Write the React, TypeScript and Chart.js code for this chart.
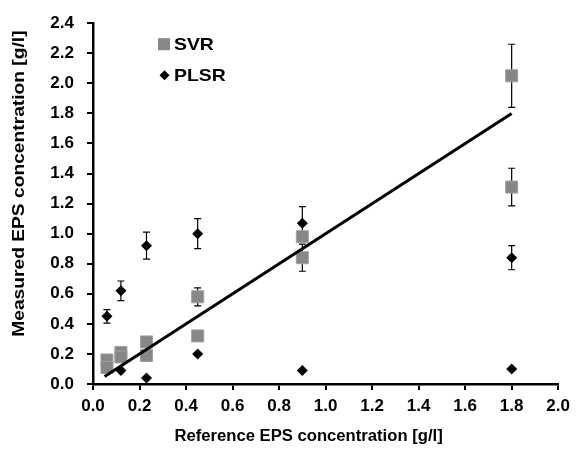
import React, { useEffect, useRef } from "react";
import { Chart, registerables } from "chart.js";

Chart.register(...registerables);

// Reference EPS concentration [g/l]
const svrX = [0.06, 0.06, 0.12, 0.12, 0.23, 0.23, 0.45, 0.45, 0.9, 0.9, 1.8, 1.8];
const svrY = [0.16, 0.11, 0.21, 0.18, 0.28, 0.19, 0.58, 0.32, 0.98, 0.84, 2.05, 1.31];
const svrErr = [0, 0, 0, 0, 0, 0, 0.06, 0, 0.03, 0.09, 0.21, 0.125];

const plsrX = [0.06, 0.12, 0.12, 0.23, 0.23, 0.45, 0.45, 0.9, 0.9, 1.8, 1.8];
const plsrY = [0.45, 0.62, 0.09, 0.92, 0.04, 1.0, 0.2, 1.07, 0.09, 0.84, 0.1];
const plsrErr = [0.045, 0.065, 0, 0.09, 0, 0.1, 0, 0.11, 0, 0.08, 0];

const fitX = [0.05, 1.8];
const fitY = [0.05, 1.8];

const legendLabels = ["SVR", "PLSR"];
const xTitle = "Reference EPS concentration [g/l]";
const yTitle = "Measured EPS concentration [g/l]";

const FONT = "'Liberation Sans', Arial, sans-serif";
const SVR_FILL = "#878787";
const SVR_EDGE = "#a0a0a0";

const errorBarPlugin = {
  id: "errorBars",
  beforeDatasetsDraw(chart: any) {
    const ctx = chart.ctx;
    const xs = chart.scales.x;
    const ys = chart.scales.y;
    const sets = [
      { x: svrX, y: svrY, e: svrErr },
      { x: plsrX, y: plsrY, e: plsrErr },
    ];
    ctx.save();
    ctx.strokeStyle = "#000";
    ctx.lineWidth = 1.2;
    for (const s of sets) {
      for (let i = 0; i < s.x.length; i++) {
        if (!s.e[i]) continue;
        const px = xs.getPixelForValue(s.x[i]);
        const top = ys.getPixelForValue(s.y[i] + s.e[i]);
        const bot = ys.getPixelForValue(s.y[i] - s.e[i]);
        ctx.beginPath();
        ctx.moveTo(px, top);
        ctx.lineTo(px, bot);
        ctx.moveTo(px - 3.5, top);
        ctx.lineTo(px + 3.5, top);
        ctx.moveTo(px - 3.5, bot);
        ctx.lineTo(px + 3.5, bot);
        ctx.stroke();
      }
    }
    ctx.restore();
  },
};

const textPlugin = {
  id: "texts",
  afterDraw(chart: any) {
    const ctx = chart.ctx;
    const ca = chart.chartArea;
    ctx.save();
    ctx.fillStyle = "#000";
    ctx.textBaseline = "middle";
    ctx.textAlign = "left";

    // Legend inside plot
    const x0 = ca.left + 65;
    const y0 = ca.top + 21;
    const gap = 31;
    ctx.fillStyle = SVR_FILL;
    ctx.fillRect(x0, y0 - 6, 12, 12);
    ctx.fillStyle = "#000";
    const cx = x0 + 6.5;
    const cy = y0 + gap;
    ctx.beginPath();
    ctx.moveTo(cx - 5, cy);
    ctx.lineTo(cx, cy - 5);
    ctx.lineTo(cx + 5, cy);
    ctx.lineTo(cx, cy + 5);
    ctx.closePath();
    ctx.fill();
    ctx.font = `bold 17px ${FONT}`;
    for (let i = 0; i < legendLabels.length; i++) {
      ctx.save();
      ctx.translate(x0 + 16, y0 + i * gap + 1);
      ctx.scale(1.14, 1);
      ctx.fillText(legendLabels[i], 0, 0);
      ctx.restore();
    }

    // Axis titles (slightly widened lettering as in the reference)
    ctx.textAlign = "center";
    ctx.font = `bold 16px ${FONT}`;
    ctx.save();
    ctx.translate((ca.left + ca.right) / 2 - 17, 437);
    ctx.scale(1.04, 1);
    ctx.fillText(xTitle, 0, 0);
    ctx.restore();

    ctx.font = `bold 17px ${FONT}`;
    ctx.save();
    ctx.translate(19, (ca.top + ca.bottom) / 2 - 20);
    ctx.rotate(-Math.PI / 2);
    ctx.scale(1.13, 1);
    ctx.fillText(yTitle, 0, 0);
    ctx.restore();

    ctx.restore();
  },
};

export default function App() {
  const ref = useRef<HTMLCanvasElement>(null);

  useEffect(() => {
    document.body.style.margin = "0";
    const canvas = ref.current;
    if (!canvas) return;
    const chart = new Chart(canvas, {
      type: "scatter",
      data: {
        datasets: [
          {
            label: legendLabels[0],
            data: svrX.map((x, i) => ({ x, y: svrY[i] })),
            pointStyle: "rect",
            pointRadius: 8.5,
            pointHoverRadius: 8.5,
            backgroundColor: SVR_FILL,
            borderColor: SVR_EDGE,
            borderWidth: 1,
            order: 3,
          },
          {
            type: "line",
            label: "fit",
            data: fitX.map((x, i) => ({ x, y: fitY[i] })),
            borderColor: "#000",
            borderWidth: 3,
            pointRadius: 0,
            fill: false,
            order: 2,
          } as any,
          {
            label: legendLabels[1],
            data: plsrX.map((x, i) => ({ x, y: plsrY[i] })),
            pointStyle: "rectRot",
            pointRadius: 5.5,
            pointHoverRadius: 5.5,
            backgroundColor: "#000",
            borderColor: "#000",
            borderWidth: 0,
            order: 1,
          },
        ],
      },
      options: {
        responsive: false,
        animation: false,
        events: [],
        layout: { padding: { left: 8, top: 22, right: 15, bottom: 4 } },
        plugins: {
          legend: { display: false },
          tooltip: { enabled: false },
        },
        scales: {
          x: {
            type: "linear",
            min: 0,
            max: 2.0,
            afterFit: (s: any) => {
              s.height = 63;
            },
            ticks: {
              stepSize: 0.2,
              color: "#000",
              padding: 6,
              font: { family: FONT, size: 17, weight: "bold" },
              callback: (v: any) => Number(v).toFixed(1),
            },
            grid: {
              drawOnChartArea: false,
              drawTicks: true,
              tickLength: 6,
              color: "#000",
              lineWidth: 2,
            },
            border: { color: "#000", width: 2.5 },
            title: { display: false },
          },
          y: {
            type: "linear",
            min: 0,
            max: 2.4,
            afterFit: (s: any) => {
              s.width = 85;
            },
            ticks: {
              stepSize: 0.2,
              color: "#000",
              padding: 13,
              font: { family: FONT, size: 17, weight: "bold" },
              callback: (v: any) => Number(v).toFixed(1),
            },
            grid: {
              drawOnChartArea: false,
              drawTicks: true,
              tickLength: 6,
              color: "#000",
              lineWidth: 2,
            },
            border: { color: "#000", width: 2.5 },
            title: { display: false },
          },
        },
      },
      plugins: [errorBarPlugin, textPlugin],
    });
    return () => chart.destroy();
  }, []);

  return (
    <div style={{ width: 576, height: 451, background: "#fff" }}>
      <canvas ref={ref} width={576} height={451} style={{ display: "block" }} />
    </div>
  );
}
